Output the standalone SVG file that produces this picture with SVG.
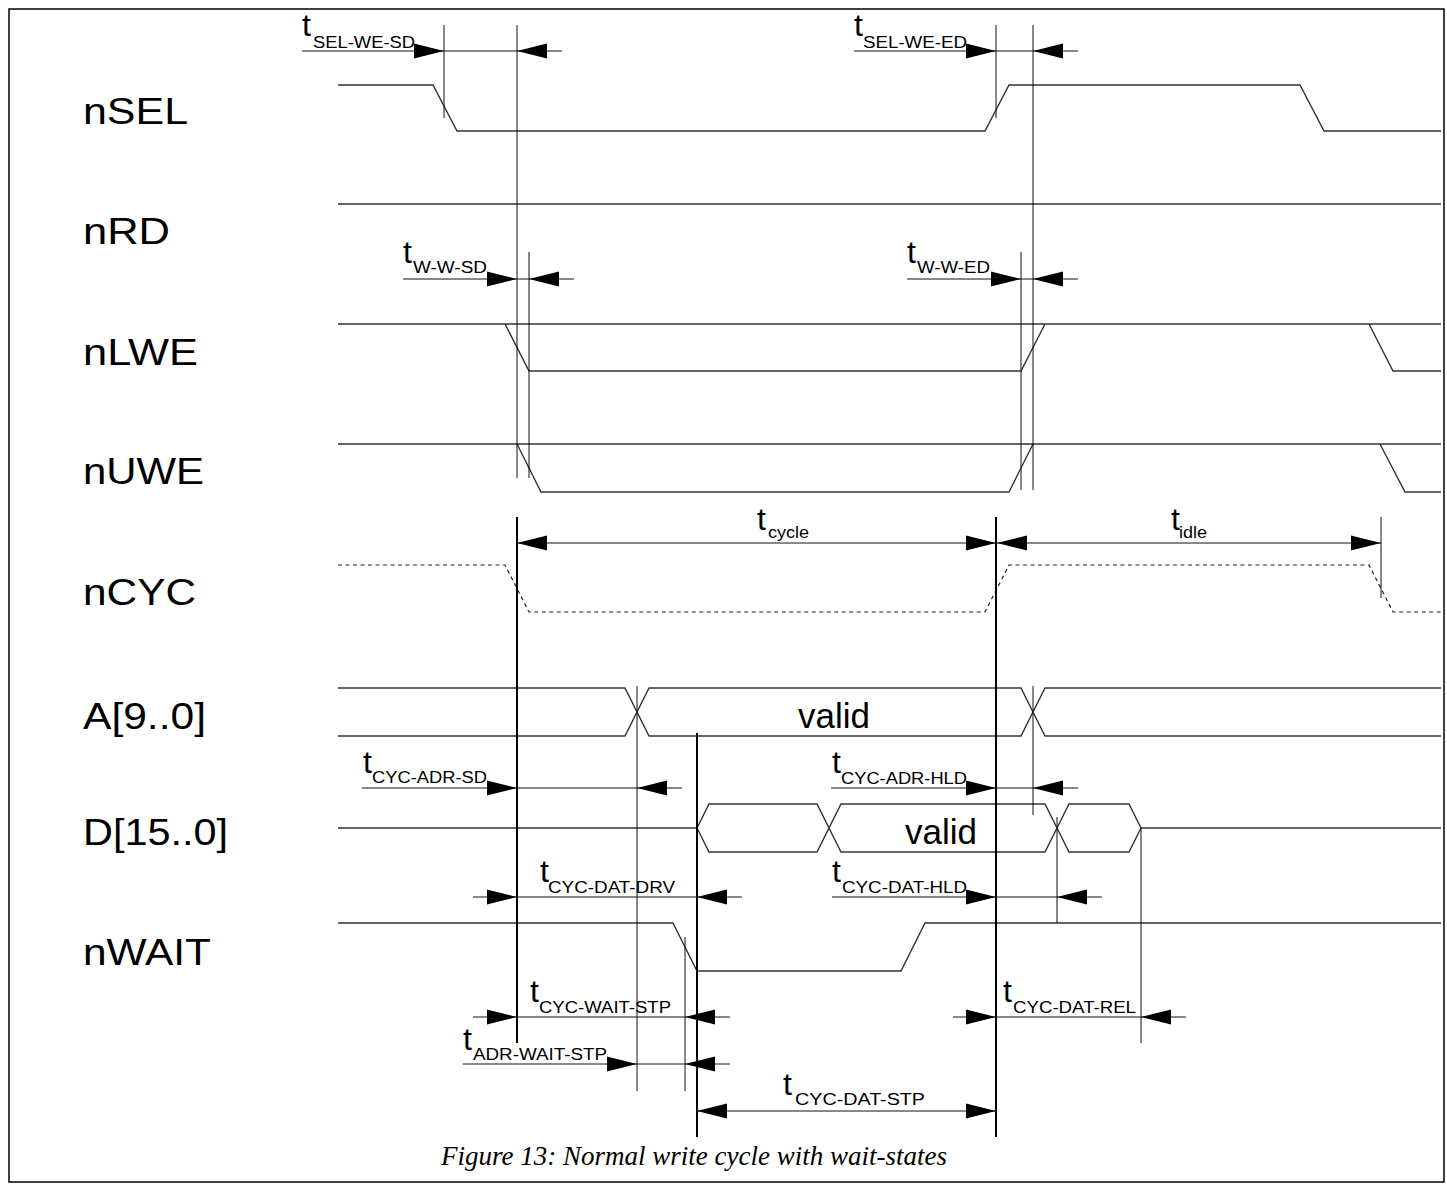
<svg xmlns="http://www.w3.org/2000/svg" xmlns:xlink="http://www.w3.org/1999/xlink" width="1447" height="1191" viewBox="0 0 1447 1191">
<style>
.frame{fill:#fff;stroke:#000;stroke-width:1.5}
.sig{fill:none;stroke:#333;stroke-width:1.4}
.dash{fill:none;stroke:#222;stroke-width:1.2;stroke-dasharray:4 3.5}
.dim{fill:none;stroke:#111;stroke-width:1}
.ext{fill:none;stroke:#111;stroke-width:1}
.ref{fill:none;stroke:#000;stroke-width:2}
.lbl{font-family:"Liberation Sans",Arial,sans-serif;font-size:37px;fill:#000}
.t{font-family:"Liberation Sans",Arial,sans-serif;font-size:32px;fill:#000}
.sub{font-family:"Liberation Sans",Arial,sans-serif;font-size:16px;fill:#000}
.val{font-family:"Liberation Sans",Arial,sans-serif;font-size:35px;fill:#000}
.cap{font-family:"Liberation Serif","Times New Roman",serif;font-style:italic;font-size:27px;fill:#000}
</style>
<defs>
<path id="ar" d="M0,0 L-30,-7.5 L-30,7.5 Z" fill="#000"/>
</defs>
<rect class="frame" x="9" y="9" width="1435" height="1173"/>

<g id="nSEL">
<text class="lbl" x="83" y="124" textLength="105" lengthAdjust="spacingAndGlyphs">nSEL</text>
<path class="sig" d="M338,85 H433 L457,131 H985 L1009,85 H1300 L1324,131 H1441"/>
</g>
<g id="nRD">
<text class="lbl" x="83" y="244" textLength="87" lengthAdjust="spacingAndGlyphs">nRD</text>
<path class="sig" d="M338,204 H1441"/>
</g>
<g id="nLWE">
<text class="lbl" x="83" y="365" textLength="115" lengthAdjust="spacingAndGlyphs">nLWE</text>
<path class="sig" d="M338,324 H1441 M505,324 L529,371 H1021 L1045,324 M1369,324 L1393,371 H1441"/>
</g>
<g id="nUWE">
<text class="lbl" x="83" y="484" textLength="121" lengthAdjust="spacingAndGlyphs">nUWE</text>
<path class="sig" d="M338,444 H1441 M517,444 L541,492 H1009 L1033,444 M1380,444 L1405,492 H1441"/>
</g>
<g id="nCYC">
<text class="lbl" x="83" y="605" textLength="113" lengthAdjust="spacingAndGlyphs">nCYC</text>
<path class="dash" d="M338,565 H505 L529,612 H985 L1009,565 H1369 L1393,612 H1441"/>
</g>
<g id="A">
<text class="lbl" x="83" y="729" textLength="123" lengthAdjust="spacingAndGlyphs">A[9..0]</text>
<path class="sig" d="M338,688 H625 L649,736 H1021 L1045,688 H1441 M338,736 H625 L649,688 H1021 L1045,736 H1441"/>
<text class="val" x="798" y="728">valid</text>
</g>
<g id="D">
<text class="lbl" x="83" y="845" textLength="145" lengthAdjust="spacingAndGlyphs">D[15..0]</text>
<path class="sig" d="M338,828 H697 L709,804 H817 L841,852 H1045 L1069,804 H1129 L1141,828 H1441 M697,828 L709,852 H817 L841,804 H1045 L1069,852 H1129 L1141,828"/>
<text class="val" x="905" y="844">valid</text>
</g>
<g id="nWAIT">
<text class="lbl" x="83" y="965" textLength="128" lengthAdjust="spacingAndGlyphs">nWAIT</text>
<path class="sig" d="M338,923 H673 L697,971 H901 L925,923 H1441"/>
</g>

<g id="connectors">
<path class="ext" d="M444,25 V118 M517,25 V478 M529,252 V478 M996,25 V118 M1021,252 V490 M1033,25 V490 M1381,517 V598 M637,686 V1091 M1033,686 V815 M1057,817 V923 M1141,828 V1043 M685,937 V1091"/>
<path class="ref" d="M517,517 V1043 M996,517 V1137 M697,733 V1137"/>
<path class="dim" d="M302,51 H562 M854,51 H1078 M403,279 H574 M907,279 H1078 M517,543 H1381 M362,788 H682 M831,788 H1078 M473,897 H742 M832,897 H1102 M473,1017 H730 M953,1017 H1186 M463,1064 H730 M697,1111 H996"/>
<use xlink:href="#ar" transform="translate(444,51)"/>
<use xlink:href="#ar" transform="translate(517,51) scale(-1,1)"/>
<use xlink:href="#ar" transform="translate(996,51)"/>
<use xlink:href="#ar" transform="translate(1033,51) scale(-1,1)"/>
<use xlink:href="#ar" transform="translate(517,279)"/>
<use xlink:href="#ar" transform="translate(529,279) scale(-1,1)"/>
<use xlink:href="#ar" transform="translate(1021,279)"/>
<use xlink:href="#ar" transform="translate(1033,279) scale(-1,1)"/>
<use xlink:href="#ar" transform="translate(517,543) scale(-1,1)"/>
<use xlink:href="#ar" transform="translate(996,543)"/>
<use xlink:href="#ar" transform="translate(997,543) scale(-1,1)"/>
<use xlink:href="#ar" transform="translate(1381,543)"/>
<use xlink:href="#ar" transform="translate(517,788)"/>
<use xlink:href="#ar" transform="translate(637,788) scale(-1,1)"/>
<use xlink:href="#ar" transform="translate(996,788)"/>
<use xlink:href="#ar" transform="translate(1033,788) scale(-1,1)"/>
<use xlink:href="#ar" transform="translate(517,897)"/>
<use xlink:href="#ar" transform="translate(697,897) scale(-1,1)"/>
<use xlink:href="#ar" transform="translate(996,897)"/>
<use xlink:href="#ar" transform="translate(1057,897) scale(-1,1)"/>
<use xlink:href="#ar" transform="translate(517,1017)"/>
<use xlink:href="#ar" transform="translate(685,1017) scale(-1,1)"/>
<use xlink:href="#ar" transform="translate(996,1017)"/>
<use xlink:href="#ar" transform="translate(1141,1017) scale(-1,1)"/>
<use xlink:href="#ar" transform="translate(637,1064)"/>
<use xlink:href="#ar" transform="translate(685,1064) scale(-1,1)"/>
<use xlink:href="#ar" transform="translate(697,1111) scale(-1,1)"/>
<use xlink:href="#ar" transform="translate(996,1111)"/>

<text class="t" x="302" y="36">t</text><text class="sub" x="313" y="48" textLength="102" lengthAdjust="spacingAndGlyphs">SEL-WE-SD</text>
<text class="t" x="854" y="36">t</text><text class="sub" x="863" y="48" textLength="104" lengthAdjust="spacingAndGlyphs">SEL-WE-ED</text>
<text class="t" x="403" y="263">t</text><text class="sub" x="413" y="273" textLength="74" lengthAdjust="spacingAndGlyphs">W-W-SD</text>
<text class="t" x="907" y="263">t</text><text class="sub" x="917" y="273" textLength="73" lengthAdjust="spacingAndGlyphs">W-W-ED</text>
<text class="t" x="757" y="530">t</text><text class="sub" x="768" y="538" textLength="41" lengthAdjust="spacingAndGlyphs">cycle</text>
<text class="t" x="1171" y="530">t</text><text class="sub" x="1179" y="538" textLength="28" lengthAdjust="spacingAndGlyphs">idle</text>
<text class="t" x="363" y="773">t</text><text class="sub" x="372" y="783" textLength="115" lengthAdjust="spacingAndGlyphs">CYC-ADR-SD</text>
<text class="t" x="832" y="773">t</text><text class="sub" x="841" y="784" textLength="126" lengthAdjust="spacingAndGlyphs">CYC-ADR-HLD</text>
<text class="t" x="540" y="882">t</text><text class="sub" x="548" y="893" textLength="127" lengthAdjust="spacingAndGlyphs">CYC-DAT-DRV</text>
<text class="t" x="832" y="882">t</text><text class="sub" x="842" y="893" textLength="125" lengthAdjust="spacingAndGlyphs">CYC-DAT-HLD</text>
<text class="t" x="530" y="1002">t</text><text class="sub" x="539" y="1013" textLength="132" lengthAdjust="spacingAndGlyphs">CYC-WAIT-STP</text>
<text class="t" x="1003" y="1002">t</text><text class="sub" x="1013" y="1013" textLength="123" lengthAdjust="spacingAndGlyphs">CYC-DAT-REL</text>
<text class="t" x="463" y="1050">t</text><text class="sub" x="473" y="1060" textLength="134" lengthAdjust="spacingAndGlyphs">ADR-WAIT-STP</text>
<text class="t" x="783" y="1095">t</text><text class="sub" x="795" y="1105" textLength="130" lengthAdjust="spacingAndGlyphs">CYC-DAT-STP</text>
</g>

<text class="cap" x="441" y="1165">Figure 13: Normal write cycle with wait-states</text>
</svg>
